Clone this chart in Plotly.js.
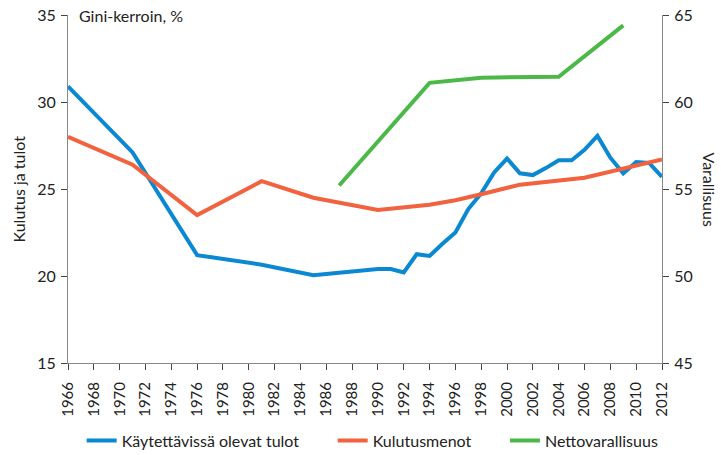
<!DOCTYPE html>
<html>
<head>
<meta charset="utf-8">
<script src="https://cdn.plot.ly/plotly-3.0.1.min.js"></script>
<style>html,body{margin:0;padding:0;background:#fff;}#chart{width:721px;height:455px;}</style>
</head>
<body>
<div id="chart"></div>
<script>
// Käytettävissä olevat tulot (left axis)
const incomeYears = [1966, 1971, 1976, 1981, 1985, 1990, 1991, 1992, 1993, 1994, 1995, 1996, 1997, 1998, 1999, 2000, 2001, 2002, 2003, 2004, 2005, 2006, 2007, 2008, 2009, 2010, 2011, 2012];
const incomeGini  = [30.9, 27.1, 21.2, 20.65, 20.05, 20.4, 20.4, 20.2, 21.25, 21.15, 21.85, 22.5, 23.85, 24.75, 25.95, 26.75, 25.9, 25.8, 26.2, 26.65, 26.65, 27.25, 28.05, 26.8, 25.9, 26.55, 26.5, 25.7];
// Kulutusmenot (left axis)
const consYears = [1966, 1971, 1976, 1981, 1985, 1990, 1994, 1996, 1998, 2001, 2006, 2012];
const consGini  = [28.0, 26.4, 23.5, 25.45, 24.5, 23.8, 24.1, 24.35, 24.7, 25.25, 25.65, 26.7];
// Nettovarallisuus (right axis)
const wealthYears = [1987, 1994, 1998, 2004, 2009];
const wealthGini  = [55.2, 61.1, 61.4, 61.45, 64.4];

const seriesNames = ['Käytettävissä olevat tulot', 'Kulutusmenot', 'Nettovarallisuus'];

const xTicks = [];
for (let y = 1966; y <= 2012; y += 2) xTicks.push(y);
const leftTicks = [15, 20, 25, 30, 35];
const rightTicks = [45, 50, 55, 60, 65];

const FONT = 'Lato, "Open Sans", sans-serif';
const PAD = '\u00a0\u00a0\u00a0\u00a0\u00a0\u00a0\u00a0';
const traces = [
  {x: incomeYears, y: incomeGini, name: seriesNames[0] + PAD, type: 'scatter', mode: 'lines',
   line: {color: '#0a88d2', width: 4}, yaxis: 'y'},
  {x: consYears, y: consGini, name: seriesNames[1] + PAD, type: 'scatter', mode: 'lines',
   line: {color: '#f2623f', width: 4}, yaxis: 'y'},
  {x: wealthYears, y: wealthGini, name: seriesNames[2], type: 'scatter', mode: 'lines',
   line: {color: '#4cb848', width: 4}, yaxis: 'y2'}
];

const layout = {
  width: 721, height: 455,
  margin: {l: 68, r: 59, t: 15, b: 92, autoexpand: false},
  paper_bgcolor: '#fff', plot_bgcolor: '#fff',
  font: {family: FONT, color: '#222', size: 15},
  showlegend: true,
  legend: {orientation: 'h', x: 0.023, xanchor: 'left', y: -0.223, yanchor: 'middle',
           font: {size: 16, color: '#222'}, itemwidth: 30, tracegroupgap: 0},
  xaxis: {range: [1966, 2012], tickvals: xTicks, ticktext: xTicks.map(String), tickangle: -90,
          showgrid: false, zeroline: false, showline: true, linecolor: '#888', linewidth: 1,
          ticks: 'outside', ticklen: 6, tickcolor: '#444', ticklabelstandoff: 6,
          tickfont: {size: 15, color: '#222'}, fixedrange: true, automargin: false},
  yaxis: {range: [15, 35], tickvals: leftTicks, showgrid: false, zeroline: false, showline: true,
          linecolor: '#888', linewidth: 1, ticks: 'outside', ticklen: 6, tickcolor: '#444',
          ticklabelstandoff: 2, tickfont: {size: 16, color: '#222'}, automargin: false},
  yaxis2: {range: [45, 65], tickvals: rightTicks, overlaying: 'y', side: 'right', showgrid: false,
           zeroline: false, showline: true, linecolor: '#888', linewidth: 1, ticks: 'outside',
           ticklen: 6, tickcolor: '#444', ticklabelstandoff: 2, tickfont: {size: 16, color: '#222'},
           automargin: false},
  annotations: [
    {text: 'Gini-kerroin, %', xref: 'paper', yref: 'paper', x: 0.015, y: 1, xanchor: 'left', yanchor: 'middle',
     showarrow: false, font: {size: 16, color: '#222'}},
    {text: 'Kulutus ja tulot', xref: 'paper', yref: 'paper', x: -0.085, y: 0.5, xanchor: 'center', yanchor: 'middle',
     textangle: -90, showarrow: false, font: {size: 16, color: '#222'}},
    {text: 'Varallisuus', xref: 'paper', yref: 'paper', x: 1.08, y: 0.5, xanchor: 'center', yanchor: 'middle',
     textangle: 90, showarrow: false, font: {size: 16, color: '#222'}}
  ]
};

Plotly.newPlot('chart', traces, layout, {staticPlot: true, displayModeBar: false});
</script>
</body>
</html>
